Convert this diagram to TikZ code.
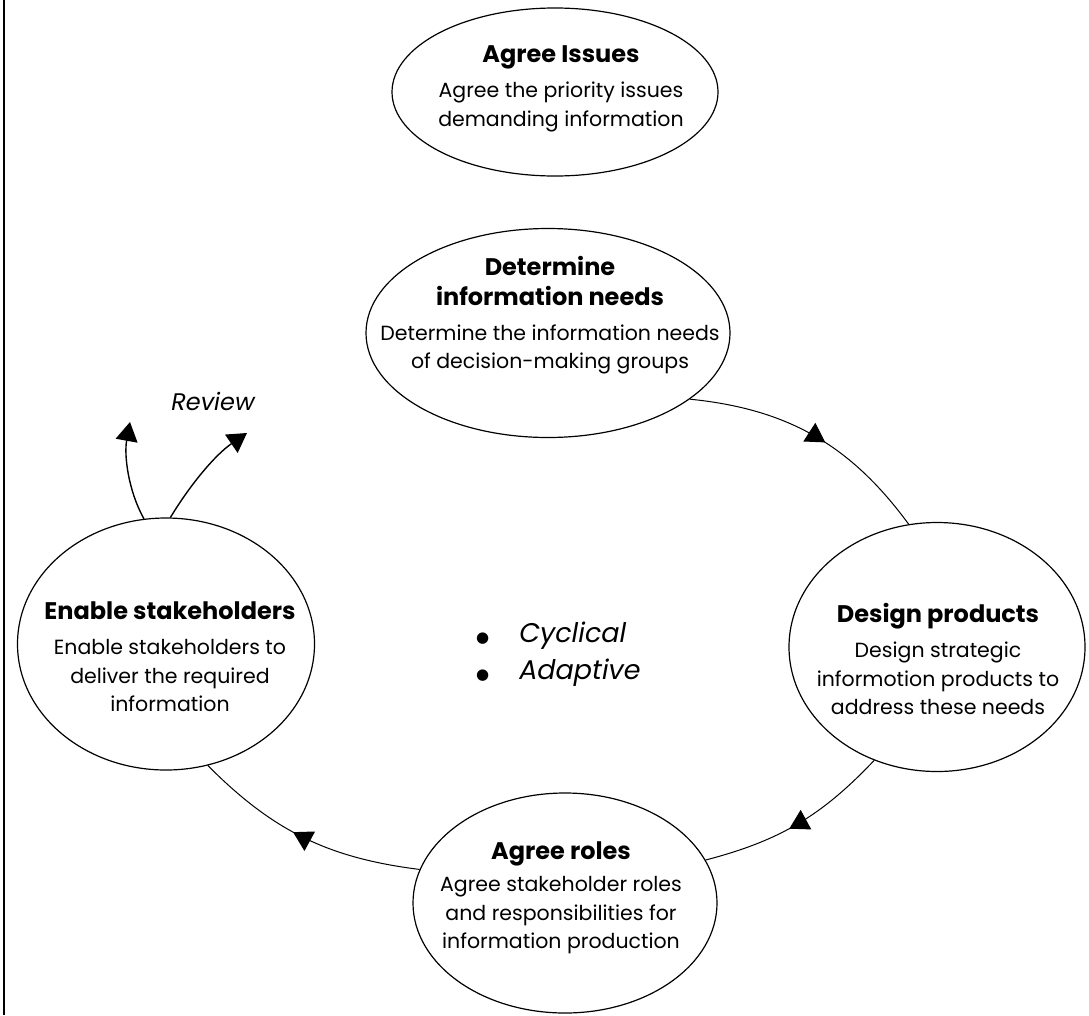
\documentclass[tikz,border=0pt]{standalone}
\usepackage{fontspec}
\setmainfont{Poppins}
\newfontfamily\symfont{DejaVu Sans}
\usetikzlibrary{shapes.geometric,arrows.meta,decorations.markings}
\newcommand{\ttlfont}{\fontsize{24}{28.5}\selectfont\bfseries}
\newcommand{\blt}{{\symfont\fontsize{15}{15}\selectfont ●}}
\begin{document}
\begin{tikzpicture}[x=1pt,y=-1pt,
  stage/.style={draw, ellipse, line width=1.2pt, inner sep=0pt},
  txt/.style={align=center, font=\fontsize{20.5}{28.5}\selectfont, inner sep=0pt},
  flow/.style={line width=1pt, postaction={decorate},
    decoration={markings, mark=at position 0.55 with {\arrow{Triangle[length=19pt,width=22pt]}}}},
  rev/.style={line width=1.4pt, -{Triangle[length=19pt,width=22pt]}},
]
\useasboundingbox (0,0) rectangle (1089,1015);
\draw[line width=1.5pt] (4,0) -- (4,1015);

% ellipses
\node[stage, minimum width=326pt, minimum height=168pt] (issues) at (555,92) {};
\node[stage, minimum width=364pt, minimum height=209pt] (needs) at (548,333) {};
\node[stage, minimum width=296pt, minimum height=249pt] (design) at (937,647) {};
\node[stage, minimum width=304pt, minimum height=220pt] (roles) at (565,903) {};
\node[stage, minimum width=297pt, minimum height=252pt] (enable) at (166,644) {};

% texts
\node[txt] (tissues) at (561,89) {{\ttlfont Agree Issues}\\[6.5pt]Agree the priority issues\\demanding information};
\node[txt] (tneeds) at (550,315) {{\ttlfont Determine}\\[1.5pt]{\ttlfont information needs}\\[6.5pt]Determine the information needs\\of decision-making groups};
\node[txt] (tdesign) at (938,659) {{\ttlfont Design products}\\[6.5pt]Design strategic\\informotion products to\\address these needs};
\node[txt] (troles) at (561,898) {{\ttlfont Agree roles}\\[4pt]Agree stakeholder roles\\and responsibilities for\\information production};
\node[txt] (tenable) at (170,657) {{\ttlfont Enable stakeholders}\\[6.5pt]Enable stakeholders to\\deliver the required\\information};

% centre bullets
\node[anchor=west, inner sep=0pt, font=\fontsize{27}{37}\selectfont] (cyc) at (476,654)
  {\begin{tabular}{@{}l@{\hspace{30pt}}l@{}}\blt & \textit{Cyclical}\\ \blt & \textit{Adaptive}\end{tabular}};

% review
\node[inner sep=0pt, font=\fontsize{24}{28}\selectfont\itshape] (review) at (213,401) {Review};
\coordinate (r1) at (130,422);
\coordinate (r2) at (247,433);
\draw[rev] (enable.100.6) .. controls (128,490) and (124,455) .. (r1);
\draw[rev] (enable.88) .. controls (190,485) and (215,455) .. (r2);

% cycle
\draw[flow] (needs.-25) to[bend left=24] (design.103.5);
\draw[flow] (design.-119.6) to[bend left=16] (roles.17.8);
\draw[flow] (roles.167.6) to[bend left=19] (enable.-71.8);
\end{tikzpicture}
\end{document}
